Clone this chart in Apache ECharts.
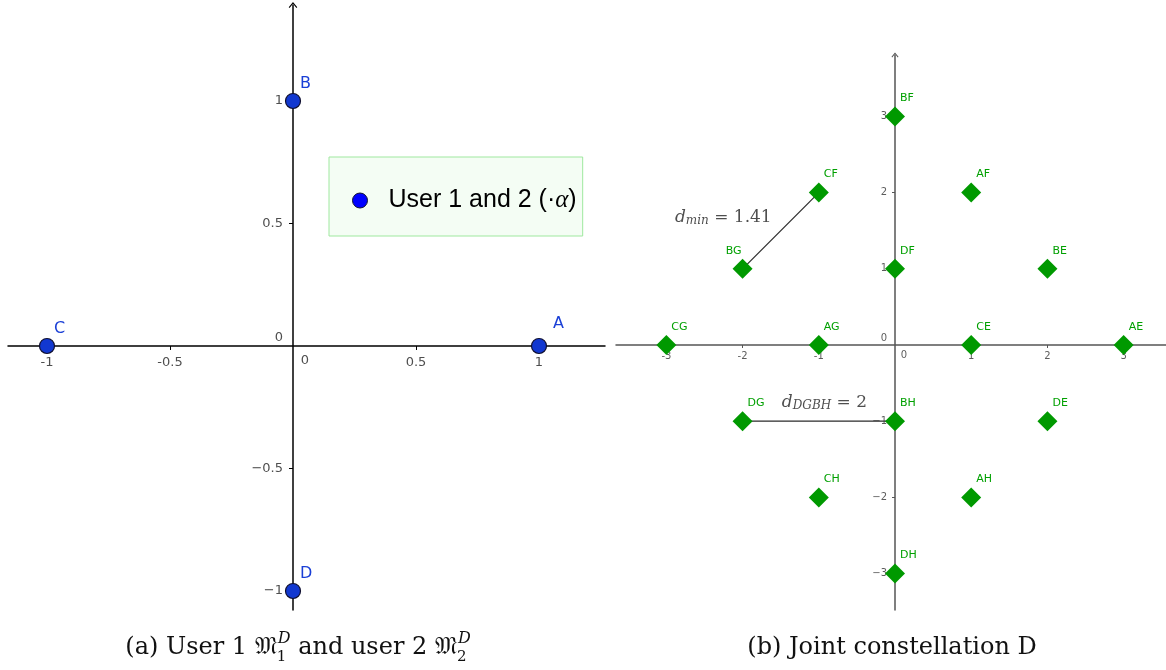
<!DOCTYPE html>
<html>
<head>
<meta charset="utf-8">
<script src="https://cdn.jsdelivr.net/npm/echarts@6/dist/echarts.min.js"></script>
<style>
  html, body { margin: 0; padding: 0; background: #fff; }
  #chart { width: 1166px; height: 670px; }
</style>
</head>
<body>
<div id="chart"></div>
<script>
// (a) user 1 / user 2 constellation
const userNames = ['A', 'B', 'C', 'D'];
const userX = [1, 0, -1, 0];
const userY = [0, 1, 0, -1];
const userTicks = [-1, -0.5, 0.5, 1];
const userSeriesName = 'User 1 and 2';

// (b) joint constellation
const jointNames = ['AE', 'AF', 'AG', 'AH', 'BE', 'BF', 'BG', 'BH',
                    'CE', 'CF', 'CG', 'CH', 'DE', 'DF', 'DG', 'DH'];
const jointX = [3, 1, -1, 1, 2, 0, -2, 0, 1, -1, -3, -1, 2, 0, -2, 0];
const jointY = [0, 2, 0, -2, 1, 3, 1, -1, 0, 2, 0, -2, -1, 1, -1, -3];
const jointTicks = [-3, -2, -1, 1, 2, 3];
const distancePairs = [['BG', 'CF'], ['DG', 'BH']];
const distanceSubs = ['min', 'DGBH'];
const distanceValues = ['1.41', '2'];
const originLabel = '0';

const SANS = "'DejaVu Sans', sans-serif";
const SERIF = "'DejaVu Serif', serif";

var myChart = echarts.init(document.getElementById('chart'), null, {renderer: 'canvas'});

const arrow = 'path://M5,0L10,6L9,7L5,2L1,7L0,6Z';
const fmtX = v => v < 0 ? '-' + Math.abs(v) : String(v);
const fmtY = v => v < 0 ? '\u2212' + Math.abs(v) : String(v);

function axisPair(grid, min, max, ticks, o) {
  const x = {
    gridIndex: grid, type: 'value', min: min[0], max: max[0],
    axisLine: {onZero: true, lineStyle: {color: o.color, width: 1.5}},
    axisTick: {customValues: ticks, length: o.tick, lineStyle: {color: o.color, width: 1}},
    axisLabel: {show: false},
    splitLine: {show: false}
  };
  const y = {
    gridIndex: grid, type: 'value', min: min[1], max: max[1],
    axisLine: {onZero: true, symbol: ['none', arrow], symbolSize: o.arrow, lineStyle: {color: o.color, width: 1.5}},
    axisTick: {customValues: ticks, length: o.tick, lineStyle: {color: o.color, width: 1}},
    axisLabel: {show: false},
    splitLine: {show: false}
  };
  return [x, y];
}

// tick labels drawn as label-only points so they sit on the zero lines
function tickLabels(grid, ticks, o) {
  const base = {type: 'scatter', xAxisIndex: grid, yAxisIndex: grid, z: 4, silent: true, symbolSize: 0};
  const font = {fontSize: o.fs, color: o.text, fontFamily: SANS};
  return [
    Object.assign({}, base, {
      data: ticks.map(v => [v, 0]),
      label: Object.assign({show: true, position: 'inside', formatter: p => fmtX(p.value[0]),
        align: 'center', verticalAlign: 'middle', offset: [0, o.xOff]}, font)
    }),
    Object.assign({}, base, {
      data: ticks.map(v => [0, v]),
      label: Object.assign({show: true, position: 'inside', formatter: p => fmtY(p.value[1]),
        align: 'right', verticalAlign: 'middle', offset: [o.yOff, 0]}, font)
    }),
    Object.assign({}, base, {
      data: [
        {value: [0, 0], label: {offset: o.zeroY}},
        {value: [0, 0], label: {offset: o.zeroX}}
      ],
      label: Object.assign({show: true, position: 'inside', formatter: originLabel}, font)
    })
  ];
}

const axA = axisPair(0, [-1.1585, -1.0776], [1.2683, 1.3918], userTicks,
  {color: '#000', tick: 4, arrow: [9, 6]});
const axB = axisPair(1, [-3.661, -3.478], [3.556, 3.806], jointTicks,
  {color: '#555', tick: 3, arrow: [7, 5]});

const byName = {};
jointNames.forEach((n, i) => { byName[n] = [jointX[i], jointY[i]]; });

// caption layout (pieces measured so that sub/superscripts can stack)
const ctx = document.createElement('canvas').getContext('2d');
function textW(t, font) { ctx.font = font; return ctx.measureText(t).width; }
const capFont = '24px ' + SERIF;
const supFont = 'italic 16px ' + SERIF;
const subFont = '15px ' + SERIF;
function caption(pieces, cx, cy) {
  const out = [];
  let x = 0;
  pieces.forEach(p => {
    if (p.sup) {
      out.push({x: x + 1, y: cy - 9, t: p.sup, f: supFont});
      out.push({x: x, y: cy + 9, t: p.sub, f: subFont});
      x += Math.max(textW(p.sup, supFont) + 1, textW(p.sub, subFont));
    } else {
      out.push({x: x, y: cy, t: p.t, f: capFont});
      x += textW(p.t, capFont);
    }
  });
  const start = cx - x / 2;
  return out.map(e => ({
    type: 'text', x: start + e.x, y: e.y, silent: true,
    style: {text: e.t, font: e.f, fill: '#111', align: 'left', verticalAlign: 'middle'}
  }));
}
const graphics = caption([
  {t: '(a) User 1 '}, {t: '\u{1D510}'}, {sup: 'D', sub: '1'},
  {t: ' and user 2 '}, {t: '\u{1D510}'}, {sup: 'D', sub: '2'}
], 298, 648).concat(caption([{t: '(b) Joint constellation D'}], 892, 648));

const distLabelStyle = [
  {align: 'right', offset: [-9, -13]},
  {align: 'left', offset: [-37, -19]}
];

myChart.setOption({
  animation: false,
  grid: [
    {left: 8, top: 5, width: 597, height: 605, outerBoundsMode: 'none', containLabel: false},
    {left: 616, top: 55, width: 550, height: 555, outerBoundsMode: 'none', containLabel: false}
  ],
  xAxis: [axA[0], axB[0]],
  yAxis: [axA[1], axB[1]],
  legend: {
    left: 329, top: 157, selectedMode: false,
    padding: [31, 6, 23, 23],
    backgroundColor: '#f4fdf4', borderColor: '#9fe89f', borderWidth: 1,
    itemWidth: 15, itemHeight: 15, icon: 'circle',
    data: [{name: userSeriesName, itemStyle: {color: '#0000ff', borderColor: '#111133', borderWidth: 1}}],
    formatter: name => '{g|}' + name + ' (\u00b7{a|\u03b1})',
    textStyle: {
      fontSize: 25, color: '#000', fontFamily: "'Liberation Sans', sans-serif",
      rich: {g: {width: 16}, a: {fontSize: 25, fontStyle: 'italic', fontFamily: "'Liberation Serif', serif"}}
    }
  },
  graphic: graphics,
  series: [
    {
      name: userSeriesName, type: 'scatter', xAxisIndex: 0, yAxisIndex: 0, z: 5,
      symbolSize: 15,
      itemStyle: {color: '#1238d0', borderColor: '#101030', borderWidth: 1.2, opacity: 1},
      data: userNames.map((n, i) => ({
        name: n, value: [userX[i], userY[i]],
        label: n === 'A' ? {offset: [14, -22]} : undefined
      })),
      label: {
        show: true, formatter: '{b}', position: 'inside', align: 'left', verticalAlign: 'middle',
        offset: [7, -17], fontSize: 16, color: '#1a3fd6', fontFamily: SANS
      }
    },
    ...distancePairs.map(pair => ({
      type: 'line', xAxisIndex: 1, yAxisIndex: 1, z: 2, silent: true,
      symbol: 'none', lineStyle: {color: '#2a2a2a', width: 1.2},
      data: pair.map(n => byName[n])
    })),
    {
      name: 'Joint', type: 'scatter', xAxisIndex: 1, yAxisIndex: 1, z: 5,
      symbol: 'diamond', symbolSize: 20,
      itemStyle: {color: '#009900', opacity: 1},
      data: jointNames.map((n, i) => ({
        name: n, value: [jointX[i], jointY[i]],
        label: n === 'BG' ? {align: 'right', offset: [-1, -18]} : undefined
      })),
      label: {
        show: true, formatter: '{b}', position: 'inside', align: 'left', verticalAlign: 'middle',
        offset: [5, -18], fontSize: 11, color: '#00a000', fontFamily: SANS
      }
    },
    {
      type: 'scatter', xAxisIndex: 1, yAxisIndex: 1, z: 6, silent: true, symbolSize: 0,
      data: distancePairs.map((pair, i) => {
        const a = byName[pair[0]], b = byName[pair[1]];
        return {
          value: [(a[0] + b[0]) / 2, (a[1] + b[1]) / 2],
          label: Object.assign({
            formatter: '{d|d}{s|' + distanceSubs[i] + '}{t| = ' + distanceValues[i] + '}'
          }, distLabelStyle[i])
        };
      }),
      label: {
        show: true, position: 'inside', verticalAlign: 'middle',
        rich: {
          d: {fontSize: 17, fontStyle: 'italic', fontFamily: SERIF, color: '#222'},
          s: {fontSize: 12, fontStyle: 'italic', fontFamily: SERIF, color: '#222', verticalAlign: 'bottom', padding: [7, 0, 0, 0]},
          t: {fontSize: 17, fontFamily: SERIF, color: '#222'}
        }
      }
    },
    ...tickLabels(0, userTicks, {fs: 13, text: '#222', xOff: 17, yOff: -10, zeroY: [-14, -8], zeroX: [12, 15]}),
    ...tickLabels(1, jointTicks, {fs: 10, text: '#333', xOff: 11, yOff: -8, zeroY: [-11, -7], zeroX: [9, 10]})
  ]
});
</script>
</body>
</html>
